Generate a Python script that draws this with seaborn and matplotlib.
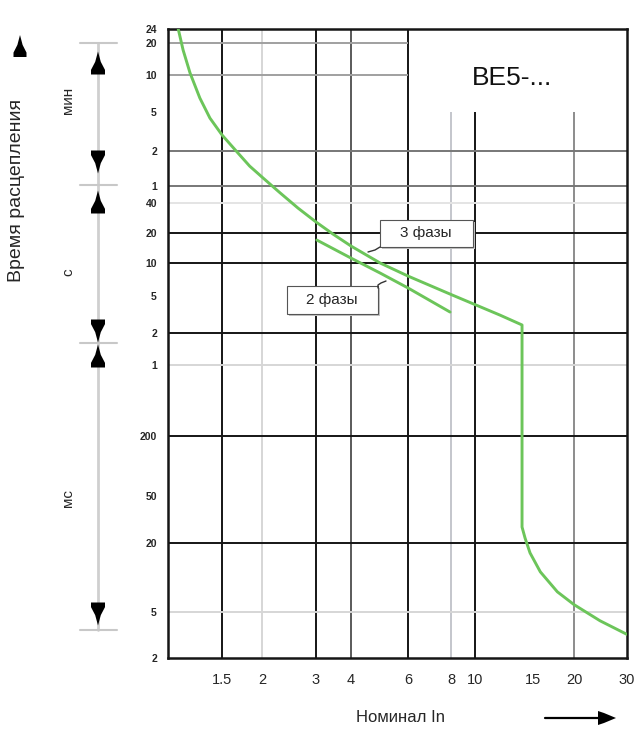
import matplotlib
matplotlib.use("Agg")
import matplotlib.pyplot as plt
import numpy as np
import pandas as pd
import seaborn as sns
from matplotlib.patches import Rectangle, Polygon

# trip curve, 3 phases loaded (multiple of In, trip time in s)
x_3ph = [1.08, 1.12, 1.18, 1.27, 1.37, 1.5, 1.67, 1.83, 2.02, 2.29, 2.62, 3.0, 3.45, 4.0,
         4.92, 6.0, 8.1, 11.9, 13.9, 13.9, 14.2, 14.7, 15.8, 17.8, 20.0, 24.4, 30.0]
t_3ph = [1440, 1031, 627, 390, 260, 175, 118, 89, 70, 51, 35.6, 25.8, 19.5, 14.8,
         10, 7.6, 5.1, 3.12, 2.44, 0.0273, 0.022, 0.0164, 0.0112, 0.0075, 0.0058, 0.0042, 0.0032]

# trip curve, 2 phases loaded
x_2ph = [3.02, 4.0, 4.92, 6.0, 7.95]
t_2ph = [17.0, 11.2, 8.1, 5.92, 3.36]

x_ticks = [1.5, 2, 3, 4, 6, 8, 10, 15, 20, 30]
x_labels = ["1.5", "2", "3", "4", "6", "8", "10", "15", "20", "30"]
# y ticks in seconds, labels in min / s / ms
y_ticks = [1440, 1200, 600, 300, 120, 60, 40, 20, 10, 5, 2, 1, 0.2, 0.05, 0.02, 0.005, 0.002]
y_labels = ["24", "20", "10", "5", "2", "1", "40", "20", "10", "5", "2", "1",
            "200", "50", "20", "5", "2"]

# the printed chart is only roughly logarithmic: decade anchors of both axes
x_anchor = [1, 1.5, 2, 3, 4, 6, 8, 10, 20, 30]
x_anchor_pos = [0, 54, 94, 148, 183, 240, 283, 307, 406, 459]
y_anchor_pos = [629, 615, 583, 546, 507, 472, 455, 425, 395, 362, 325, 293, 222, 162, 115, 46, 0]

GREEN = "#6cc55a"
BLACK = "#151515"
GRAY = "#8c8c8c"
DGRAY = "#5a5a5a"
LGRAY = "#d6d6d6"

# vertical grid: (x, colour, top limit in s)
v_grid = [(1.5, BLACK, 1440), (2, LGRAY, 1440), (3, BLACK, 1440), (4, DGRAY, 1440),
          (6, BLACK, 1440), (8, "#c4c6cc", 300), (10, BLACK, 300), (20, GRAY, 300)]
# horizontal grid: (t, colour, right limit in In)
h_grid = [(1200, "#a0a0a0", 6), (600, "#a0a0a0", 6), (120, "#777777", 30), (60, "#777777", 30),
          (40, "#e4e4e4", 30), (20, BLACK, 30), (10, BLACK, 30), (2, BLACK, 30),
          (1, LGRAY, 30), (0.2, BLACK, 30), (0.02, BLACK, 30), (0.005, LGRAY, 30)]


def log_piecewise(vals, pos):
    lv = np.log10(np.asarray(vals, float))
    p = np.asarray(pos, float)
    order = np.argsort(lv)
    lv, p = lv[order], p[order]

    def fwd(v):
        v = np.clip(np.asarray(v, float), 1e-12, None)
        return np.interp(np.log10(v), lv, p)

    def inv(q):
        return 10 ** np.interp(np.asarray(q, float), p, lv)

    return fwd, inv


sns.set_style("white")
plt.rcParams['font.family'] = ['Liberation Sans', 'DejaVu Sans']

W, H = 641, 734
fig = plt.figure(figsize=(W / 100, H / 100), dpi=100)
ax = fig.add_axes([168 / W, 1 - 658 / H, 459 / W, 629 / H])

df3 = pd.DataFrame({"In": x_3ph, "t": t_3ph})
df2 = pd.DataFrame({"In": x_2ph, "t": t_2ph})
sns.lineplot(data=df3, x="In", y="t", sort=False, estimator=None, color=GREEN,
             lw=2.1, ax=ax, zorder=4)
sns.lineplot(data=df2, x="In", y="t", sort=False, estimator=None, color=GREEN,
             lw=2.1, ax=ax, zorder=4)

ax.set_xscale("function", functions=log_piecewise(x_anchor, x_anchor_pos))
ax.set_yscale("function", functions=log_piecewise(y_ticks, y_anchor_pos))
ax.set_xlim(1, 30)
ax.set_ylim(0.002, 1440)

for xv, c, top in v_grid:
    ax.vlines(xv, 0.002, top, color=c, lw=1.4, zorder=1)
for yv, c, right in h_grid:
    ax.hlines(yv, 1, right, color=c, lw=1.4, zorder=1)

ax.minorticks_off()
ax.set_xticks(x_ticks)
ax.set_xticklabels(x_labels, fontsize=10.5)
ax.set_yticks(y_ticks)
ax.set_yticklabels(y_labels, fontsize=7.5, fontweight="bold")
ax.tick_params(length=0)
ax.tick_params(axis="x", pad=11)
ax.tick_params(axis="y", pad=8)
ax.set_xlabel("")
ax.set_ylabel("")
for s in ax.spines.values():
    s.set_color(BLACK)
    s.set_linewidth(1.8)

ax.text(0.75, 0.922, "BE5-...", transform=ax.transAxes, ha="center", va="center",
        fontsize=19, color="#111111")

# overlay in pixel units for callouts and side decorations
ov = fig.add_axes([0, 0, 1, 1], zorder=5)
ov.set_xlim(0, W)
ov.set_ylim(H, 0)
ov.axis("off")
ov.patch.set_alpha(0)


def bell(cx, cy, up=True, w=14, h=23):
    s = -1 if up else 1
    pts = [(cx, cy + s * h / 2), (cx + w * 0.2, cy + s * h * 0.05),
           (cx + w * 0.5, cy - s * h * 0.3), (cx + w * 0.5, cy - s * h * 0.5),
           (cx - w * 0.5, cy - s * h * 0.5), (cx - w * 0.5, cy - s * h * 0.3),
           (cx - w * 0.2, cy + s * h * 0.05)]
    ov.add_patch(Polygon(pts, closed=True, color="black", lw=0))


# callout boxes
ov.add_patch(Rectangle((382, 222), 93, 27, fc="#c4c4c4", ec="none"))
ov.add_patch(Rectangle((380, 220), 93, 27, fc="white", ec="#555555", lw=0.8))
ov.plot([380, 375, 368], [247, 250, 252], color="#333333", lw=1)
ov.text(426, 233.5, "3 фазы", ha="center", va="center", fontsize=11)

ov.add_patch(Rectangle((289, 288), 91, 28, fc="#c4c4c4", ec="none"))
ov.add_patch(Rectangle((287, 286), 91, 28, fc="white", ec="#555555", lw=0.8))
ov.plot([378, 378, 381, 386], [288, 285, 283, 281], color="#333333", lw=1)
ov.text(332, 300, "2 фазы", ha="center", va="center", fontsize=11)

# left side: time axis title and ranges
bell(20, 46, up=True, w=13, h=22)
ov.text(17, 190, "Время расцепления", rotation=90, ha="center", va="center", fontsize=14)

ov.plot([98, 98], [43, 630], color="#cfcfcf", lw=2, zorder=1)
for yb in [43, 185, 343, 630]:
    ov.plot([80, 117], [yb, yb], color="#c8c8c8", lw=1.5, zorder=1)
for yc, up in [(63, True), (162, False), (202, True), (331, False), (356, True), (614, False)]:
    bell(98, yc, up=up)
ov.text(68, 100, "мин", rotation=90, ha="center", va="center", fontsize=11)
ov.text(68, 272, "с", rotation=90, ha="center", va="center", fontsize=11)
ov.text(68, 498, "мс", rotation=90, ha="center", va="center", fontsize=11)

# bottom: current axis title and arrow
ov.text(400, 718, "Номинал In", ha="center", va="center", fontsize=12)
ov.plot([545, 600], [718, 718], color="black", lw=1.6)
ov.add_patch(Polygon([(616, 718), (604, 713), (598, 711), (598, 725), (604, 723)],
                     closed=True, color="black", lw=0))

fig.savefig("out.png", dpi=100)
